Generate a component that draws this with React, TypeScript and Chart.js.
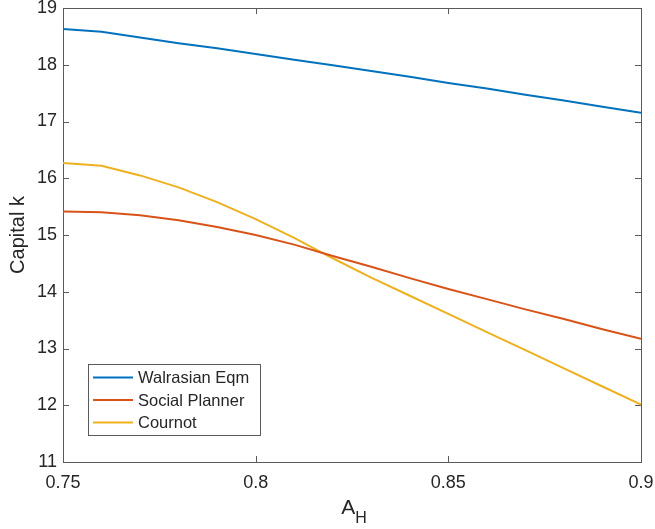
import React, { useEffect, useRef } from "react";
import { Chart, registerables } from "chart.js";

Chart.register(...registerables);

const aH = [0.75, 0.76, 0.77, 0.78, 0.79, 0.8, 0.81, 0.82, 0.83, 0.84, 0.85, 0.86, 0.87, 0.88, 0.89, 0.9];
const walrasian = [18.63, 18.58, 18.48, 18.38, 18.29, 18.19, 18.09, 17.99, 17.89, 17.79, 17.68, 17.58, 17.47, 17.37, 17.26, 17.155];
const planner = [15.415, 15.4, 15.35, 15.26, 15.14, 15.0, 14.83, 14.63, 14.44, 14.24, 14.05, 13.87, 13.69, 13.52, 13.34, 13.17];
const cournot = [16.27, 16.22, 16.05, 15.84, 15.58, 15.28, 14.95, 14.59, 14.25, 13.93, 13.61, 13.29, 12.97, 12.65, 12.33, 12.01];
const xTicks = [0.75, 0.8, 0.85, 0.9];
const yTicks = [11, 12, 13, 14, 15, 16, 17, 18, 19];
const seriesNames = ["Walrasian Eqm", "Social Planner", "Cournot"];
const seriesColors = ["#0072BD", "#D95319", "#EDB120"];
const yTitle = "Capital k";
const xTitleMain = "A";
const xTitleSub = "H";

const FONT = "'Liberation Sans', Arial, Helvetica, sans-serif";
const AXIS_COLOR = "#5a5a5a";
const TEXT_COLOR = "#262626";

const framePlugin = {
  id: "frame",
  beforeDatasetsDraw(chart: any) {
    const { ctx, chartArea } = chart;
    const { left, right, top, bottom } = chartArea;
    ctx.save();
    ctx.strokeStyle = AXIS_COLOR;
    ctx.lineWidth = 1;
    ctx.strokeRect(Math.round(left) + 0.5, Math.round(top) + 0.5, Math.round(right - left), Math.round(bottom - top));
    const tl = 6;
    ctx.beginPath();
    for (const v of xTicks) {
      const px = Math.round(chart.scales.x.getPixelForValue(v)) + 0.5;
      ctx.moveTo(px, bottom);
      ctx.lineTo(px, bottom - tl);
      ctx.moveTo(px, top);
      ctx.lineTo(px, top + tl);
    }
    for (const v of yTicks) {
      const py = Math.round(chart.scales.y.getPixelForValue(v)) + 0.5;
      ctx.moveTo(left, py);
      ctx.lineTo(left + tl, py);
      ctx.moveTo(right, py);
      ctx.lineTo(right - tl, py);
    }
    ctx.stroke();
    ctx.restore();
  },
  afterDraw(chart: any) {
    const { ctx, chartArea } = chart;
    ctx.save();
    // x title with subscript
    const cx = (chartArea.left + chartArea.right) / 2;
    ctx.fillStyle = TEXT_COLOR;
    ctx.textBaseline = "alphabetic";
    ctx.textAlign = "left";
    ctx.font = `21px ${FONT}`;
    const wA = ctx.measureText(xTitleMain).width;
    ctx.font = `16px ${FONT}`;
    const wH = ctx.measureText(xTitleSub).width;
    const x0 = cx - (wA + wH) / 2 + 2;
    ctx.font = `21px ${FONT}`;
    ctx.fillText(xTitleMain, x0, 514);
    ctx.font = `16px ${FONT}`;
    ctx.fillText(xTitleSub, x0 + wA, 523);

    // legend
    const bx = 88, by = 364, bw = 172, bh = 71;
    ctx.fillStyle = "#ffffff";
    ctx.fillRect(bx, by, bw, bh);
    ctx.strokeStyle = AXIS_COLOR;
    ctx.lineWidth = 1;
    ctx.strokeRect(bx + 0.5, by + 0.5, bw, bh);
    const rows = [377.5, 400, 422.5];
    ctx.font = `16.5px ${FONT}`;
    ctx.textBaseline = "middle";
    seriesNames.forEach((name, i) => {
      ctx.strokeStyle = seriesColors[i];
      ctx.lineWidth = 2;
      ctx.beginPath();
      ctx.moveTo(93, rows[i]);
      ctx.lineTo(133, rows[i]);
      ctx.stroke();
      ctx.fillStyle = TEXT_COLOR;
      ctx.fillText(name, 138, rows[i] + 1);
    });
    ctx.restore();
  },
};

export default function App() {
  const ref = useRef<HTMLCanvasElement>(null);
  useEffect(() => {
    if (!ref.current) return;
    const makeData = (vals: number[]) => aH.map((x, i) => ({ x, y: vals[i] }));
    const chart = new Chart(ref.current, {
      type: "line",
      data: {
        datasets: [walrasian, planner, cournot].map((vals, i) => ({
          label: seriesNames[i],
          data: makeData(vals),
          borderColor: seriesColors[i],
          backgroundColor: seriesColors[i],
          borderWidth: 2,
          pointRadius: 0,
          tension: 0,
          fill: false,
        })),
      },
      options: {
        responsive: false,
        animation: false,
        layout: { padding: { top: 8, right: 14, left: 0, bottom: 0 } },
        plugins: { legend: { display: false }, tooltip: { enabled: false } },
        scales: {
          x: {
            type: "linear",
            min: 0.75,
            max: 0.9,
            afterBuildTicks: (scale: any) => {
              scale.ticks = xTicks.map((v) => ({ value: v }));
            },
            afterFit: (scale: any) => {
              scale.height = 67;
              scale.paddingLeft = 0;
              scale.paddingRight = 0;
            },
            grid: { display: false, drawTicks: false },
            border: { display: false },
            ticks: {
              padding: 10,
              color: TEXT_COLOR,
              font: { family: FONT, size: 18 },
              maxRotation: 0,
              autoSkip: false,
              callback: (v: any) => String(Number(Number(v).toFixed(2))),
            },
          },
          y: {
            type: "linear",
            min: 11,
            max: 19,
            afterBuildTicks: (scale: any) => {
              scale.ticks = yTicks.map((v) => ({ value: v }));
            },
            afterFit: (scale: any) => {
              scale.width = 63;
              scale.paddingTop = 0;
              scale.paddingBottom = 0;
            },
            grid: { display: false, drawTicks: false },
            border: { display: false },
            title: {
              display: true,
              text: yTitle,
              color: TEXT_COLOR,
              font: { family: FONT, size: 20 },
              padding: { top: 6, bottom: 0 },
            },
            ticks: {
              padding: 6,
              color: TEXT_COLOR,
              font: { family: FONT, size: 18 },
              autoSkip: false,
            },
          },
        },
      },
      plugins: [framePlugin],
    });
    return () => chart.destroy();
  }, []);
  return (
    <div style={{ position: "absolute", left: 0, top: 0, width: 655, height: 529, background: "#fff" }}>
      <canvas ref={ref} width={655} height={529} style={{ display: "block" }} />
    </div>
  );
}
